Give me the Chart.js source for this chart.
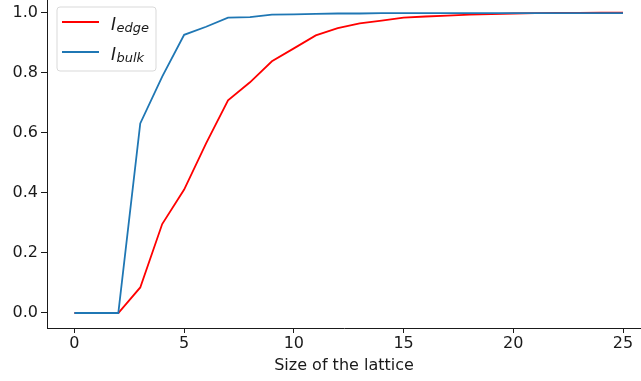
<!DOCTYPE html>
<html>
<head>
<meta charset="utf-8">
<script src="https://cdn.jsdelivr.net/npm/chart.js@4/dist/chart.umd.min.js"></script>
<style>
  html, body { margin: 0; padding: 0; background: #fff; }
  #wrap { width: 641px; height: 381px; position: relative; }
</style>
</head>
<body>
<div id="wrap"><canvas id="latticeChart"></canvas></div>
<script>
// lattice sizes on the x axis
const sizes = [0, 1, 2, 3, 4, 5, 6, 7, 8, 9, 10, 11, 12, 13, 14, 15, 16, 17, 18, 19, 20, 21, 22, 23, 24, 25];

// values
const edgeValues = [0, 0, 0, 0.085, 0.296, 0.411, 0.565, 0.708, 0.768, 0.838, 0.881, 0.924, 0.948, 0.964, 0.973, 0.983, 0.987, 0.990, 0.993, 0.995, 0.997, 0.998, 0.999, 0.999, 1.0, 1.0];
const bulkValues = [0, 0, 0, 0.631, 0.787, 0.926, 0.953, 0.983, 0.985, 0.993, 0.994, 0.996, 0.997, 0.997, 0.998, 0.998, 0.998, 0.998, 0.998, 0.998, 0.998, 0.998, 0.998, 0.998, 0.998, 0.998];

// tick labels
const xTicks = [0, 5, 10, 15, 20, 25];
const yTicks = [0, 0.2, 0.4, 0.6, 0.8, 1.0];

// legend labels: main letter + subscript
const legendMain = ['I', 'I'];
const legendSub = ['edge', 'bulk'];
const lineColors = ['#ff0000', '#1f77b4'];

const tickFont = { family: 'DejaVu Sans', size: 16 };
const inkColor = '#1a1a1a';

// legend box drawn by hand so the subscripts come out right
const mathLegend = {
    id: 'mathLegend',
    afterDraw(chart) {
        const c = chart.ctx;
        c.save();
        // frame
        const bx = 57, by = 7, bw = 99, bh = 64, r = 3;
        c.beginPath();
        c.moveTo(bx + r, by);
        c.arcTo(bx + bw, by, bx + bw, by + bh, r);
        c.arcTo(bx + bw, by + bh, bx, by + bh, r);
        c.arcTo(bx, by + bh, bx, by, r);
        c.arcTo(bx, by, bx + bw, by, r);
        c.closePath();
        c.fillStyle = 'rgba(255,255,255,0.8)';
        c.fill();
        c.strokeStyle = '#d9d9d9';
        c.lineWidth = 1;
        c.stroke();

        const rows = [22, 52];
        for (let i = 0; i < legendMain.length; i++) {
            const y = rows[i];
            c.strokeStyle = lineColors[i];
            c.lineWidth = 1.8;
            c.beginPath();
            c.moveTo(62, y);
            c.lineTo(99, y);
            c.stroke();

            c.fillStyle = inkColor;
            c.textBaseline = 'alphabetic';
            c.textAlign = 'left';
            c.font = 'italic 17px "DejaVu Sans"';
            c.fillText(legendMain[i], 111, y + 7.5);
            const w = c.measureText(legendMain[i]).width;
            c.font = 'italic 13px "DejaVu Sans"';
            c.fillText(legendSub[i], 111 + w + 0.5, y + 9.5);
        }
        c.restore();
    }
};

const ctx = document.getElementById('latticeChart').getContext('2d');

const latticeChart = new Chart(ctx, {
    type: 'line',
    data: {
        labels: sizes,
        datasets: [{
            label: 'I_edge',
            data: sizes.map((s, i) => ({ x: s, y: edgeValues[i] })),
            borderColor: lineColors[0],
            borderWidth: 1.8,
            pointRadius: 0,
            fill: false,
            tension: 0,
            order: 1
        }, {
            label: 'I_bulk',
            data: sizes.map((s, i) => ({ x: s, y: bulkValues[i] })),
            borderColor: lineColors[1],
            borderWidth: 1.8,
            pointRadius: 0,
            fill: false,
            tension: 0,
            order: 0
        }]
    },
    options: {
        responsive: true,
        maintainAspectRatio: false,
        animation: false,
        layout: { padding: 0 },
        plugins: {
            legend: { display: false },
            tooltip: { enabled: false }
        },
        scales: {
            x: {
                type: 'linear',
                min: -1.25,
                max: 25.82,
                afterBuildTicks: (scale) => { scale.ticks = xTicks.map(v => ({ value: v })); },
                afterFit: (scale) => {
                    scale.height = 53;
                    scale.paddingLeft = 0;
                    scale.paddingRight = 0;
                },
                ticks: {
                    autoSkip: false,
                    maxRotation: 0,
                    padding: 1,
                    color: inkColor,
                    font: tickFont,
                    callback: (v) => String(v)
                },
                grid: {
                    display: true,
                    drawOnChartArea: false,
                    drawTicks: true,
                    tickLength: 5,
                    color: inkColor,
                    lineWidth: 1
                },
                border: { display: true, color: inkColor, width: 1 },
                title: {
                    display: true,
                    text: 'Size of the lattice',
                    color: inkColor,
                    font: tickFont,
                    padding: { top: 0, bottom: 6 }
                }
            },
            y: {
                min: -0.05,
                max: 1.042,
                afterBuildTicks: (scale) => { scale.ticks = yTicks.map(v => ({ value: v })); },
                afterFit: (scale) => {
                    scale.width = 47;
                    scale.paddingTop = 0;
                    scale.paddingBottom = 0;
                },
                ticks: {
                    autoSkip: false,
                    padding: 3,
                    color: inkColor,
                    font: tickFont,
                    callback: (v) => Number(v).toFixed(1)
                },
                grid: {
                    display: true,
                    drawOnChartArea: false,
                    drawTicks: true,
                    tickLength: 6,
                    color: inkColor,
                    lineWidth: 1
                },
                border: { display: true, color: inkColor, width: 1 }
            }
        }
    },
    plugins: [mathLegend]
});
</script>
</body>
</html>
